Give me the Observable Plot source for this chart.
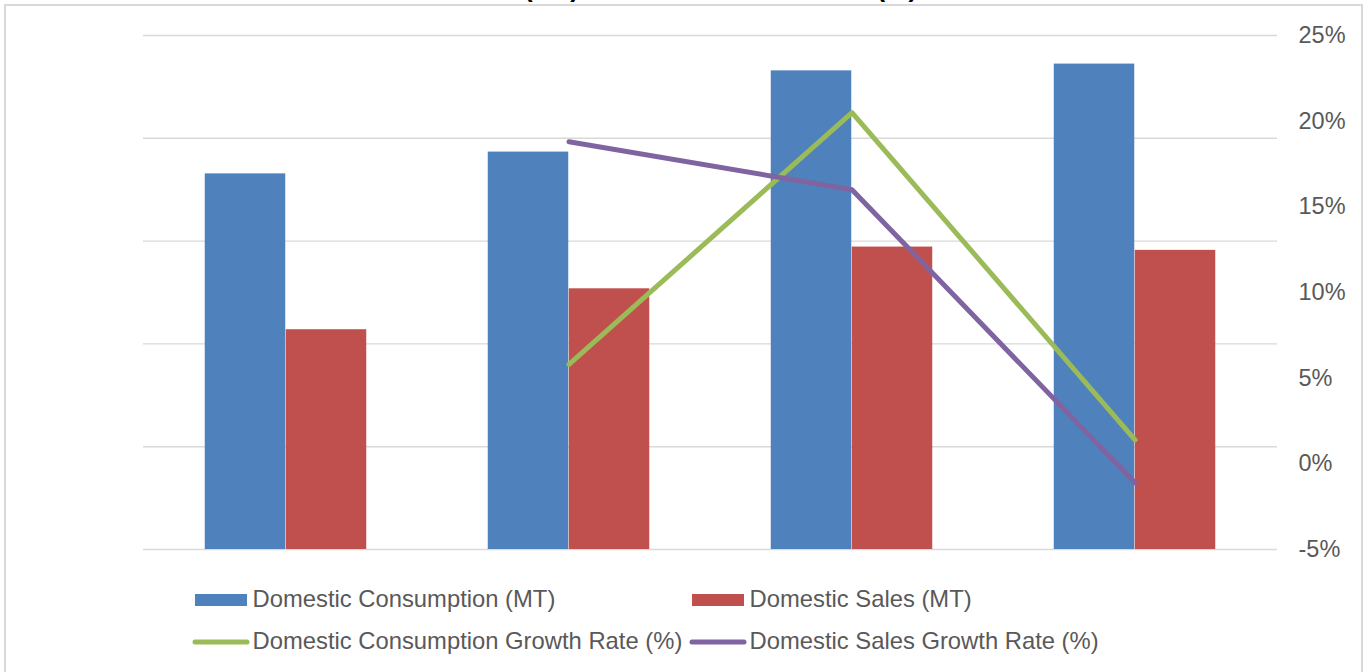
<!DOCTYPE html>
<html>
<head>
<meta charset="utf-8">
<script src="https://cdn.jsdelivr.net/npm/d3@7"></script>
<script src="https://cdn.jsdelivr.net/npm/@observablehq/plot@0.6"></script>
<style>
  html, body { margin: 0; padding: 0; background: #fff; }
  #chart { position: relative; width: 1366px; height: 672px; overflow: hidden;
           font-family: "Liberation Sans", Arial, sans-serif; }
  #frame { position: absolute; left: 4px; top: 4px; width: 1359px; height: 720px;
           border: 2px solid #D9D9D9; box-sizing: border-box; }
  #title { position: absolute; left: 0; top: -25px; width: 1366px; text-align: center;
           font-weight: bold; font-size: 26px; line-height: 26px; color: #000; white-space: nowrap; }
  #plot { position: absolute; left: 0; top: 0; }
  #legend { position: absolute; left: 0; top: 570px; }
</style>
</head>
<body>
<div id="chart">
  <div id="frame"></div>
  <div id="title"></div>
  <div id="plot"></div>
  <div id="legend"></div>
</div>
<script>
// ---- data ----
const titleText = "Sales (MT) and Sales Growth Rate (%)";
const categories = ["Year 1", "Year 2", "Year 3", "Year 4"];
const consumption = [182.7, 193.3, 232.8, 236.1];          // left axis (bars)
const sales = [106.9, 126.8, 147.1, 145.5];                // left axis (bars)
const consumptionGrowth = [null, 5.8, 20.5, 1.4];           // right axis, %
const salesGrowth = [null, 18.8, 16.0, -1.1];               // right axis, %
const leftTicks = [0, 50, 100, 150, 200, 250];
const pctTicks = [-5, 0, 5, 10, 15, 20, 25];
const seriesNames = [
  "Domestic Consumption (MT)", "Domestic Sales (MT)",
  "Domestic Consumption Growth Rate (%)", "Domestic Sales Growth Rate (%)"
];
const colors = ["#4F81BD", "#C0504D", "#9BBB59", "#8064A2"];

document.getElementById("title").textContent = titleText;

// ---- layout ----
const W = 1366, H = 570;
const mL = 143, mR = 89, mT = 35, mB = 21;
const band = (W - mL - mR) / categories.length;
const barW = 81;

// right-axis percentages are placed on the left-axis scale
const pctToY = d3.scaleLinear([pctTicks[0], pctTicks[pctTicks.length - 1]],
                              [leftTicks[0], leftTicks[leftTicks.length - 1]]);

const bars = categories.map((c, i) => ({cat: c, consumption: consumption[i], sales: sales[i]}));
const consLine = categories.map((c, i) => ({cat: c, g: consumptionGrowth[i]})).filter(d => d.g != null);
const salesLine = categories.map((c, i) => ({cat: c, g: salesGrowth[i]})).filter(d => d.g != null);

const plot = Plot.plot({
  width: W, height: H,
  marginLeft: mL, marginRight: mR, marginTop: mT, marginBottom: mB,
  style: {fontFamily: '"Liberation Sans", Arial, sans-serif', background: "transparent"},
  x: {domain: categories, padding: 0, axis: null},
  y: {domain: [leftTicks[0], leftTicks[leftTicks.length - 1]], axis: null},
  marks: [
    Plot.gridY(leftTicks, {stroke: "#D9D9D9", strokeOpacity: 1, strokeWidth: 1.4}),
    Plot.barY(bars, {x: "cat", y: "consumption", fill: colors[0],
      insetLeft: band / 2 - barW, insetRight: band / 2}),
    Plot.barY(bars, {x: "cat", y: "sales", fill: colors[1],
      insetLeft: band / 2, insetRight: band / 2 - barW}),
    Plot.lineY(consLine, {x: "cat", y: d => pctToY(d.g), stroke: colors[2],
      strokeWidth: 5, strokeLinecap: "round", strokeLinejoin: "round"}),
    Plot.lineY(salesLine, {x: "cat", y: d => pctToY(d.g), stroke: colors[3],
      strokeWidth: 5, strokeLinecap: "round", strokeLinejoin: "round"}),
    Plot.axisY(pctTicks.map(pctToY), {
      anchor: "right", tickSize: 0, tickPadding: 21, label: null,
      tickFormat: v => Math.round(pctToY.invert(v)) + "%",
      fontSize: 23.5, fill: "#595959"
    })
  ]
});
document.getElementById("plot").appendChild(plot);

// ---- legend (below the chart) ----
const lg = d3.select("#legend").append("svg")
  .attr("width", W).attr("height", 102)
  .style("font-family", '"Liberation Sans", Arial, sans-serif');
const colX = [195, 692];
const rowY = [30, 72];
seriesNames.forEach((name, i) => {
  const x0 = colX[i % 2], y0 = rowY[Math.floor(i / 2)];
  const g = lg.append("g");
  if (i < 2) {
    g.append("rect").attr("x", x0).attr("y", y0 - 6).attr("width", 52).attr("height", 12)
      .attr("fill", colors[i]);
  } else {
    g.append("line").attr("x1", x0).attr("x2", x0 + 52).attr("y1", y0).attr("y2", y0)
      .attr("stroke", colors[i]).attr("stroke-width", 5).attr("stroke-linecap", "round");
  }
  g.append("text").attr("x", x0 + 57.5).attr("y", y0 + 6.7)
    .attr("font-size", 23.8).attr("fill", "#595959").text(name);
});
</script>
</body>
</html>
